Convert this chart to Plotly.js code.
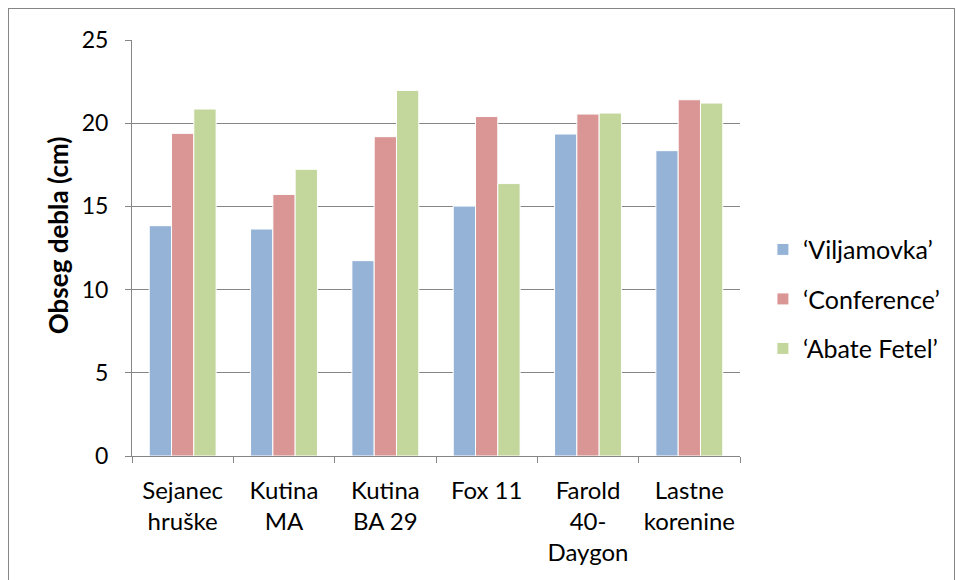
<!DOCTYPE html>
<html><head><meta charset="utf-8">
<script src="https://cdn.plot.ly/plotly-3.0.1.min.js"></script>
<style>
html,body{margin:0;padding:0;background:#fff;}
#wrap{position:relative;width:956px;height:580px;overflow:hidden;}
#chart{width:956px;height:580px;}
#frame{position:absolute;left:8px;top:8px;width:947px;height:600px;border:1px solid #868686;pointer-events:none;box-sizing:border-box;}
</style></head>
<body>
<div id="wrap"><div id="chart"></div><div id="frame"></div></div>
<script>
const categories = ["Sejanec<br>hruške", "Kutina<br>MA", "Kutina<br>BA 29", "Fox 11", "Farold<br>40-<br>Daygon", "Lastne<br>korenine"];
const seriesNames = ["‘Viljamovka’", "‘Conference’", "‘Abate Fetel’"];
const viljamovka = [13.84, 13.64, 11.74, 15.02, 19.35, 18.35];
const conference = [19.39, 15.72, 19.19, 20.40, 20.55, 21.41];
const abateFetel = [20.85, 17.23, 21.97, 16.37, 20.61, 21.21];
const yTicks = [0, 5, 10, 15, 20, 25];
const yTitle = "Obseg debla (cm)";
const colors = ["#95b3d7", "#d99694", "#c3d69b"];
const seriesValues = [viljamovka, conference, abateFetel];

const traces = seriesValues.map((v, i) => ({
  type: "bar",
  name: seriesNames[i],
  x: categories,
  y: v,
  legendgroup: "g" + i,
  marker: {color: colors[i], line: {color: "#ffffff", width: 1}},
  hoverinfo: "none"
}));

const fam = "Lato, 'Open Sans', sans-serif";
const labelFont = {family: fam, size: 24, color: "#000"};
const tickFont = {family: fam, size: 23, color: "#000"};

const layout = {
  width: 956, height: 580,
  margin: {l: 132, r: 215, t: 40, b: 124, pad: 0},
  paper_bgcolor: "#fff", plot_bgcolor: "#fff",
  font: labelFont,
  barmode: "group",
  bargap: 0.34,
  bargroupgap: 0,
  showlegend: true,
  legend: {
    x: 1.036, xanchor: "left", y: 0.377, yanchor: "middle",
    font: {family: fam, size: 25, color: "#000"},
    tracegroupgap: 14,
    itemwidth: 30
  },
  xaxis: {
    type: "category",
    showline: true, linecolor: "#868686", linewidth: 1,
    ticks: "outside", ticklen: 6, tickcolor: "#868686",
    tickson: "boundaries",
    tickangle: 0,
    ticklabelstandoff: 13,
    showgrid: false,
    tickfont: labelFont,
    fixedrange: true
  },
  yaxis: {
    range: [0, 25],
    tickvals: yTicks,
    ticktext: yTicks.map(String),
    showline: true, linecolor: "#868686", linewidth: 1,
    ticks: "outside", ticklen: 6, tickcolor: "#868686",
    ticklabelstandoff: 12,
    showgrid: true, gridcolor: "#868686", gridwidth: 1,
    zeroline: false,
    tickfont: tickFont,
    fixedrange: true
  },
  annotations: [{
    text: "<b>" + yTitle + "</b>",
    xref: "paper", yref: "paper",
    x: -0.1215, y: 0.531,
    xanchor: "center", yanchor: "middle",
    textangle: -90, showarrow: false,
    font: {family: fam, size: 26, color: "#000"}
  }]
};

Plotly.newPlot("chart", traces, layout, {displayModeBar: false, staticPlot: true});
</script>
</body></html>
